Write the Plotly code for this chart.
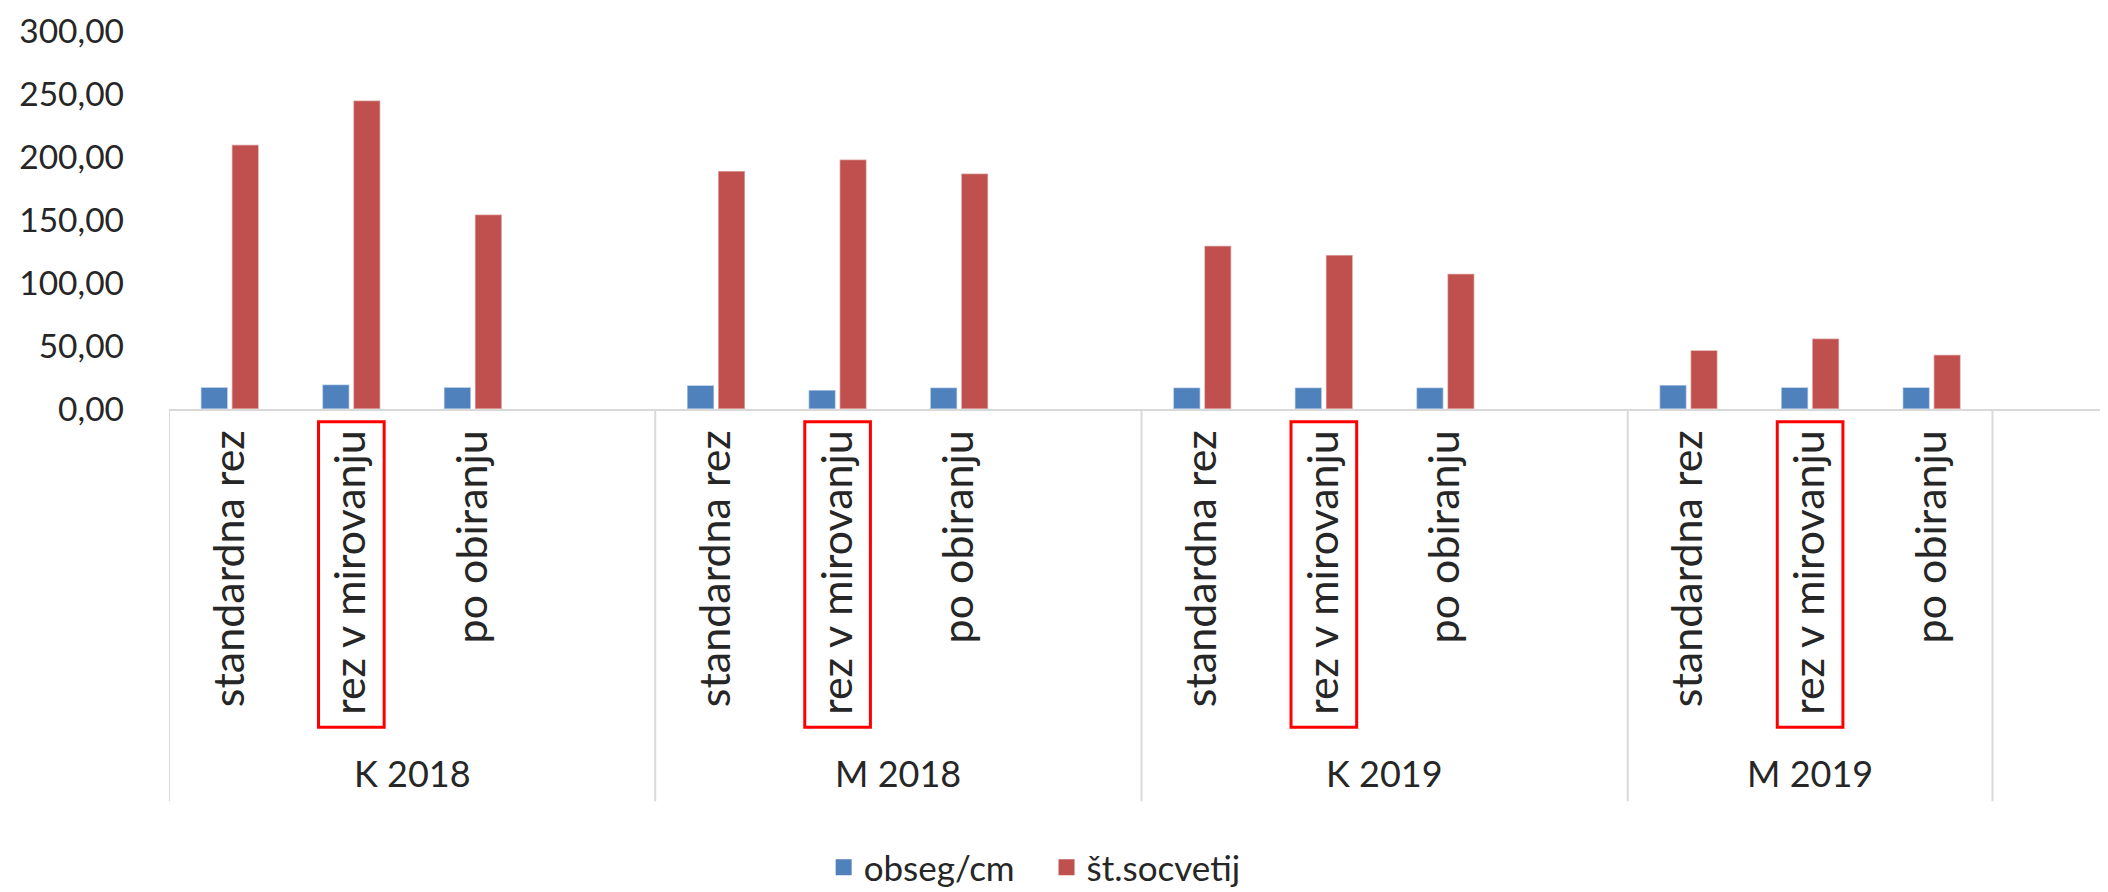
import plotly.graph_objects as go

# ---- data ----
groups = ["K 2018", "M 2018", "K 2019", "M 2019"]
treatments = ["standardna rez", "rez v mirovanju", "po obiranju"]
obseg_cm = [17.3, 19.4, 17.3, 18.8, 15.0, 17.0, 17.0, 17.0, 17.0, 19.0, 17.2, 17.2]
st_socvetij = [209.8, 244.9, 154.3, 188.8, 198.0, 187.0, 129.5, 122.2, 107.3, 46.6, 56.0, 43.0]
y_ticks = [0, 50, 100, 150, 200, 250, 300]
highlight = "rez v mirovanju"
series_names = ["obseg/cm", "št.socvetij"]
series_colors = ["#4F81BD", "#C0504D"]

# ---- category slots (each group: treatments + one empty spacer slot) ----
slots_per_group = len(treatments) + 1
xpos, xlab = [], []
for gi, g in enumerate(groups):
    for ti, t in enumerate(treatments):
        xpos.append(gi * slots_per_group + ti)
        xlab.append(t)
n_slots = len(groups) * slots_per_group
x_min, x_max = -0.5, n_slots - 0.5

FONT = "Lato"
TXT = "#262626"
GRID = "#D9D9D9"

fig = go.Figure()
for vals, name, col in zip([obseg_cm, st_socvetij], series_names, series_colors):
    fig.add_trace(go.Bar(x=xpos, y=vals, name=name, showlegend=False,
                         marker=dict(color=col, line=dict(color="rgba(255,255,255,0.5)", width=1.5))))
# legend entries with larger square swatches
for name, col in zip(series_names, series_colors):
    fig.add_trace(go.Scatter(x=[None], y=[None], mode="markers", name=name + "   ",
                             marker=dict(symbol="square", size=20, color=col)))

shapes, annotations = [], []
# group dividers
div_pos = [gi * slots_per_group - 0.5 for gi in range(len(groups))]
last_end = (len(groups) - 1) * slots_per_group + len(treatments) - 0.5
div_pos += [last_end, x_max]
for d in div_pos:
    shapes.append(dict(type="line", xref="x", yref="paper", x0=d, x1=d, y0=0, y1=-1.038,
                       line=dict(color=GRID, width=2)))
# group labels
for gi, g in enumerate(groups):
    start = gi * slots_per_group - 0.5
    end = start + slots_per_group if gi < len(groups) - 1 else last_end
    annotations.append(dict(text=g, x=(start + end) / 2, xref="x", y=-0.962, yref="paper",
                            showarrow=False, xanchor="center", yanchor="middle",
                            font=dict(family=FONT, size=36, color=TXT)))
# highlight boxes
for xp, lab in zip(xpos, xlab):
    if lab == highlight:
        shapes.append(dict(type="rect", xref="x", yref="paper", x0=xp - 0.27, x1=xp + 0.27,
                           y0=-0.034, y1=-0.842, line=dict(color="#FF0000", width=3)))

fig.update_layout(
    width=2108, height=892,
    margin=dict(l=161, r=2, t=23, b=486),
    plot_bgcolor="white", paper_bgcolor="white",
    barmode="group", bargap=0.49, bargroupgap=0.13,
    separators=", ",
    font=dict(family=FONT, color=TXT),
    shapes=shapes, annotations=annotations,
    legend=dict(orientation="h", x=0.452, xanchor="center", y=-1.213, yanchor="middle",
                font=dict(family=FONT, size=35, color=TXT), itemwidth=30, itemsizing="trace"),
    showlegend=True,
)
fig.update_xaxes(range=[x_min, x_max], tickmode="array", tickvals=xpos, ticktext=xlab,
                 tickangle=-90, ticks="", showgrid=False, zeroline=False,
                 showline=True, linecolor=GRID, linewidth=2,
                 tickfont=dict(family=FONT, size=43, color=TXT), ticklabelstandoff=2)
fig.update_yaxes(range=[0, 300], tickmode="array", tickvals=y_ticks, tickformat=".2f",
                 showgrid=False, zeroline=False, showline=False, ticks="",
                 tickfont=dict(family=FONT, size=33.5, color=TXT), ticklabelstandoff=44)

fig.write_html("out.html")
